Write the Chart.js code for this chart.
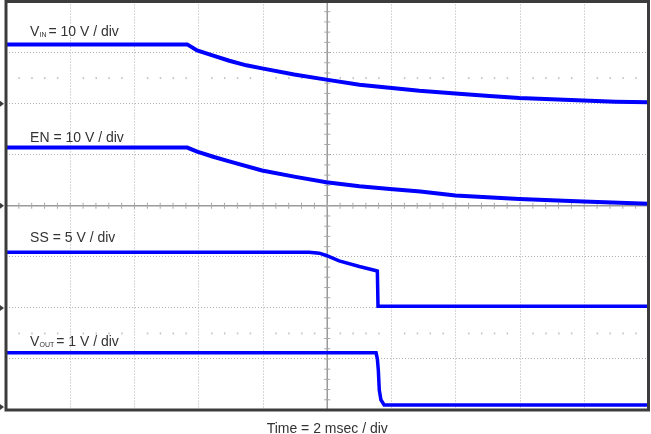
<!DOCTYPE html>
<html>
<head>
<meta charset="utf-8">
<script src="https://cdn.jsdelivr.net/npm/chart.js@4/dist/chart.umd.min.js"></script>
<style>
  html, body { margin: 0; padding: 0; background: #fff; }
  #wrap { width: 651px; height: 434px; }
</style>
</head>
<body>
<div id="wrap"><canvas id="scope" width="651" height="434"></canvas></div>
<script>
// time in ms (2 ms / div, 10 div), values in volts
const vinTime  = [0, 5.64, 5.95, 6.45, 6.95, 7.48, 7.97, 8.97, 9.97, 11.0, 11.62, 12.87, 13.99, 15.05, 15.98, 16.98, 17.97, 18.97, 20];
const vinVolts = [11.6, 11.6, 10.4, 9.4, 8.4, 7.5, 6.9, 5.7, 4.7, 3.7, 3.3, 2.5, 1.96, 1.47, 1.1, 0.88, 0.59, 0.39, 0.25];

const enTime  = [0, 5.64, 5.95, 6.45, 6.95, 7.97, 8.97, 9.97, 11.0, 11.95, 12.9, 13.99, 15.98, 17.97, 20];
const enVolts = [11.4, 11.4, 10.6, 9.6, 8.7, 6.9, 5.7, 4.6, 3.8, 3.3, 2.8, 2.0, 1.3, 0.84, 0.39];

const ssTime  = [0, 9.44, 9.75, 9.97, 10.37, 11.0, 11.5, 11.56, 11.58, 20];
const ssVolts = [5.45, 5.45, 5.36, 5.13, 4.6, 4.05, 3.66, 3.6, 0.15, 0.15];

const voutTime  = [0, 11.52, 11.56, 11.59, 11.62, 11.67, 11.77, 20];
const voutVolts = [1.12, 1.12, 1.0, 0.78, 0.39, 0.2, 0.1, 0.1];

// channel setup: volts per division and ground level (in divisions)
const chName   = ['V', 'EN', 'SS', 'V'];
const chSub    = ['IN', '', '', 'OUT'];
const chRest   = ['= 10 V / div', ' = 10 V / div', ' = 5 V / div', '= 1 V / div'];
const chScale  = [10, 10, 5, 1];
const chOffset = [6, 4, 2, 0];

const xTitle = 'Time = 2 msec / div';

const traces = [[vinTime, vinVolts], [enTime, enVolts], [ssTime, ssVolts], [voutTime, voutVolts]];

const FONT = '"Liberation Sans", Arial, sans-serif';
const BLUE = '#0000ff';

const datasets = traces.map(([t, v], i) => ({
  data: t.map((x, k) => ({ x: x, y: chOffset[i] + v[k] / chScale[i] })),
  borderColor: BLUE,
  borderWidth: i < 2 ? 4 : 3.5,
  pointRadius: 0,
  tension: 0,
  fill: false
}));

// graticule: solid centre cross with minor ticks, small dot rows, frame, ground arrows, labels
const scopePlugin = {
  id: 'scope',
  beforeDatasetsDraw(chart) {
    const { ctx, chartArea: a, scales: { x, y } } = chart;
    ctx.save();
    ctx.strokeStyle = '#9a9a9a';
    ctx.lineWidth = 1.5;
    const cx = x.getPixelForValue(10), cy = y.getPixelForValue(4);
    ctx.beginPath();
    ctx.moveTo(cx, a.top); ctx.lineTo(cx, a.bottom);
    ctx.moveTo(a.left, cy); ctx.lineTo(a.right, cy);
    ctx.stroke();
    ctx.lineWidth = 1;
    ctx.strokeStyle = '#a8a8a8';
    ctx.beginPath();
    for (let d = 0.2; d < 8; d += 0.2) {
      const py = y.getPixelForValue(d);
      ctx.moveTo(cx - 3, py); ctx.lineTo(cx + 3, py);
    }
    for (let t = 0.4; t < 20; t += 0.4) {
      const px = x.getPixelForValue(t);
      ctx.moveTo(px, cy - 3); ctx.lineTo(px, cy + 3);
    }
    ctx.stroke();
    ctx.fillStyle = '#c4c4c4';
    [6.5, 1.5].forEach(d => {
      const py = y.getPixelForValue(d);
      for (let t = 0.4; t < 20; t += 0.4) {
        if (Math.abs(t / 2 - Math.round(t / 2)) < 0.01) continue;
        ctx.fillRect(x.getPixelForValue(t) - 0.5, py - 1, 1.5, 2);
      }
    });
    ctx.restore();
  },
  afterDatasetsDraw(chart) {
    const { ctx, chartArea: a, scales: { x, y } } = chart;
    ctx.save();
    ctx.strokeStyle = '#3c3c3c';
    ctx.lineWidth = 3;
    ctx.strokeRect(a.left, a.top, a.right - a.left, a.bottom - a.top);

    ctx.fillStyle = '#3c3c3c';
    chOffset.forEach(d => {
      const py = Math.min(y.getPixelForValue(d), a.bottom - 3);
      ctx.beginPath();
      ctx.moveTo(0, py - 3); ctx.lineTo(4, py); ctx.lineTo(0, py + 3);
      ctx.closePath(); ctx.fill();
    });

    // channel labels
    const labelY = [7.32, 5.25, 3.29, 1.26];
    ctx.fillStyle = '#333';
    ctx.textBaseline = 'alphabetic';
    chName.forEach((n, i) => {
      let px = x.getPixelForValue(0.75);
      const py = y.getPixelForValue(labelY[i]);
      ctx.font = '14px ' + FONT;
      ctx.fillText(n, px, py);
      px += ctx.measureText(n).width;
      if (chSub[i]) {
        ctx.font = '7px ' + FONT;
        ctx.fillText(chSub[i], px, py + 1);
        px += ctx.measureText(chSub[i]).width + 2;
      }
      ctx.font = '14px ' + FONT;
      ctx.fillText(chRest[i], px, py);
    });
    ctx.restore();
  }
};

new Chart('scope', {
  type: 'line',
  data: { datasets: datasets },
  options: {
    responsive: false,
    animation: false,
    layout: { padding: { left: 6, right: 2.5, top: 1.5, bottom: 0 } },
    plugins: { legend: { display: false }, tooltip: { enabled: false } },
    scales: {
      x: {
        type: 'linear', min: 0, max: 20,
        ticks: { display: false, stepSize: 2 },
        grid: { color: '#b0b0b0', lineWidth: 1, drawTicks: false },
        border: { display: false, dash: [1, 2] },
        title: {
          display: true, text: xTitle, color: '#333',
          font: { family: FONT, size: 14, lineHeight: 1 },
          padding: { top: 12, bottom: -2 }
        }
      },
      y: {
        type: 'linear', min: 0, max: 8,
        ticks: { display: false, stepSize: 1 },
        grid: { color: '#b0b0b0', lineWidth: 1, drawTicks: false },
        border: { display: false, dash: [1, 2] }
      }
    }
  },
  plugins: [scopePlugin]
});
</script>
</body>
</html>
